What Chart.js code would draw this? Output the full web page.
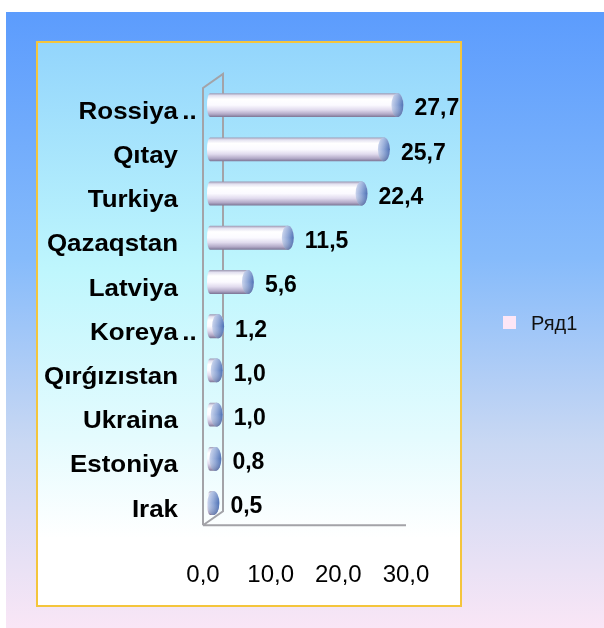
<!DOCTYPE html>
<html>
<head>
<meta charset="utf-8">
<script src="https://cdn.jsdelivr.net/npm/chart.js@4.4.3/dist/chart.umd.min.js"></script>
<style>
	html, body { margin: 0; padding: 0; background: #fff; overflow: hidden; }
	#wrap { position: relative; width: 604px; height: 628px; }
</style>
</head>
<body>
<div id="wrap"><canvas id="chart" width="604" height="628"></canvas></div>
<script>
	// Data.
	var categories = ['Rossiya ..', 'Qıtay', 'Turkiya', 'Qazaqstan', 'Latviya', 'Koreya ..', 'Qırǵızıstan', 'Ukraina', 'Estoniya', 'Irak'];
	var values     = [27.7, 25.7, 22.4, 11.5, 5.6, 1.2, 1.0, 1.0, 0.8, 0.5];
	var xTicks     = [0, 10, 20, 30];
	var seriesName = 'Ряд1';

	var FONT = "'Liberation Sans', Arial, sans-serif";
	var DX = 7, DY = -6;          // bar offset into the 3D depth
	var DEPTH_X = 20, DEPTH_Y = -14;

	function fmt(v) {
		return Number(v).toFixed(1).replace('.', ',');
	}

	// Backgrounds: outer blue->pink panel and inner plot box.
	var backgroundPlugin = {
		id: 'panels',
		beforeDraw: function (chart) {
			var c = chart.ctx;
			c.save();
			c.fillStyle = '#fff';
			c.fillRect(0, 0, chart.width, chart.height);

			var g = c.createLinearGradient(0, 12, 0, 628);
			g.addColorStop(0, '#5c9cfd');
			g.addColorStop(0.4, '#86bbfb');
			g.addColorStop(0.7, '#c9d8f3');
			g.addColorStop(1, '#f9e6f6');
			c.fillStyle = g;
			c.fillRect(6, 12, 598, 616);

			var g2 = c.createLinearGradient(0, 42, 0, 606);
			g2.addColorStop(0, '#93d5fc');
			g2.addColorStop(0.4, '#bef6fd');
			g2.addColorStop(0.7, '#e4fbfe');
			g2.addColorStop(0.88, '#ffffff');
			g2.addColorStop(1, '#ffffff');
			c.fillStyle = g2;
			c.fillRect(37, 42, 424, 564);
			c.strokeStyle = '#f4c53c';
			c.lineWidth = 2;
			c.strokeRect(37, 42, 424, 564);
			c.restore();
		}
	};

	// 3D wall and floor.
	var wallPlugin = {
		id: 'wall',
		beforeDatasetsDraw: function (chart) {
			var c = chart.ctx, xs = chart.scales.x, a = chart.chartArea;
			var x0 = xs.getPixelForValue(0), x1 = xs.getPixelForValue(30);
			var yTop = a.top - 1, yBot = a.bottom - 6;
			c.save();
			c.strokeStyle = '#a3a3a8';
			c.lineWidth = 2;
			c.beginPath();
			c.moveTo(x0, yBot); c.lineTo(x0, yTop);
			c.lineTo(x0 + DEPTH_X, yTop + DEPTH_Y);
			c.lineTo(x0 + DEPTH_X, yBot + DEPTH_Y);
			c.lineTo(x0, yBot);
			c.moveTo(x0, yBot); c.lineTo(x1, yBot);
			c.stroke();
			c.restore();
		}
	};

	// Cylinder bars, value labels, category labels, legend.
	var barsPlugin = {
		id: 'bars3d',
		afterDatasetsDraw: function (chart) {
			var c = chart.ctx;
			var meta = chart.getDatasetMeta(0);
			c.save();
			meta.data.forEach(function (el, i) {
				var xs = el.base + DX, xe = el.x + DX, yc = el.y + DY;
				var ry = el.height / 2, rx = 6;

				var g = c.createLinearGradient(0, yc - ry, 0, yc + ry);
				g.addColorStop(0, '#9b97b2');
				g.addColorStop(0.1, '#e3e1f0');
				g.addColorStop(0.25, '#ffffff');
				g.addColorStop(0.5, '#fbfaff');
				g.addColorStop(0.7, '#e1dbee');
				g.addColorStop(0.88, '#b2a9c7');
				g.addColorStop(1, '#7b7494');
				c.beginPath();
				c.moveTo(xs, yc - ry);
				c.lineTo(xe, yc - ry);
				c.ellipse(xe, yc, rx, ry, 0, -Math.PI / 2, Math.PI / 2);
				c.lineTo(xs, yc + ry);
				c.ellipse(xs, yc, 3, ry, 0, Math.PI / 2, Math.PI * 1.5);
				c.closePath();
				c.fillStyle = g;
				c.fill();

				// end cap
				var gc = c.createLinearGradient(xe - rx, 0, xe + rx, 0);
				gc.addColorStop(0, '#c9d3ec');
				gc.addColorStop(0.5, '#8ea6d6');
				gc.addColorStop(1, '#4c70b4');
				c.beginPath();
				c.ellipse(xe, yc, rx, ry, 0, 0, Math.PI * 2);
				c.fillStyle = gc;
				c.fill();
				var gs = c.createLinearGradient(0, yc - ry, 0, yc + ry);
				gs.addColorStop(0, 'rgba(255,255,255,0.25)');
				gs.addColorStop(0.5, 'rgba(255,255,255,0)');
				gs.addColorStop(1, 'rgba(40,40,80,0.3)');
				c.fillStyle = gs;
				c.fill();

				// value label
				c.fillStyle = '#000';
				c.font = 'bold 23px ' + FONT;
				c.textAlign = 'left';
				c.textBaseline = 'middle';
				c.fillText(fmt(values[i]), xe + rx + 11, el.y - 2);

				// category label
				var lab = categories[i], tail = '';
				if (lab.slice(-3) === ' ..') { tail = '..'; lab = lab.slice(0, -3); }
				c.save();
				c.translate(178, el.y + 1);
				c.scale(1.08, 1);
				c.font = 'bold 24px ' + FONT;
				c.textAlign = 'right';
				c.fillText(lab, 0, 0);
				if (tail) {
					c.textAlign = 'left';
					c.fillText(tail, 4, 0);
				}
				c.restore();
			});

			// legend
			c.fillStyle = '#fde6f6';
			c.fillRect(503, 316, 13, 13);
			c.fillStyle = '#111';
			c.font = '20px ' + FONT;
			c.textAlign = 'left';
			c.textBaseline = 'middle';
			c.fillText(chart.data.datasets[0].label, 531, 324);
			c.restore();
		}
	};

	new Chart(document.getElementById('chart'), {
		type: 'bar',
		data: {
			labels: categories,
			datasets: [{
				label: seriesName,
				data: values,
				backgroundColor: 'rgba(0,0,0,0)',
				borderWidth: 0,
				barPercentage: 0.54,
				categoryPercentage: 1
			}]
		},
		options: {
			indexAxis: 'y',
			responsive: false,
			animation: false,
			events: [],
			layout: { padding: { left: 203, right: 198, top: 89, bottom: 8 } },
			plugins: { legend: { display: false }, tooltip: { enabled: false } },
			scales: {
				x: {
					min: 0,
					max: 30,
					afterBuildTicks: function (s) {
						s.ticks = xTicks.map(function (v) { return { value: v }; });
					},
					grid: { display: false, drawTicks: false },
					border: { display: false },
					ticks: {
						padding: 30,
						color: '#000',
						maxRotation: 0,
						autoSkip: false,
						font: { family: FONT, size: 24 },
						callback: function (v) { return fmt(v); }
					}
				},
				y: { display: false }
			}
		},
		plugins: [backgroundPlugin, wallPlugin, barsPlugin]
	});
</script>
</body>
</html>
